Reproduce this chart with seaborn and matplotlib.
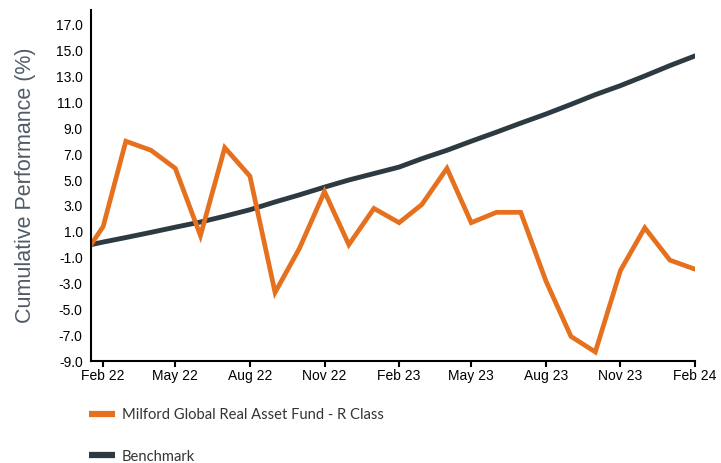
import matplotlib
matplotlib.use("Agg")
import matplotlib.pyplot as plt
import matplotlib.dates as mdates
from matplotlib.lines import Line2D
import pandas as pd
import seaborn as sns

# month points; the first one is the inception point, half a month before Feb 22
dates = ["2022-01-17"] + [d.strftime("%Y-%m-%d") for d in pd.date_range("2022-02-01", "2024-02-01", freq="MS")]
fund = [0.0, 1.4, 8.0, 7.3, 5.9, 0.7, 7.5, 5.3, -3.7, -0.3, 4.1, 0.0, 2.8,
        1.7, 3.1, 5.9, 1.7, 2.5, 2.5, -2.8, -7.1, -8.3, -2.0, 1.3, -1.2, -1.9]
benchmark = [0.0, 0.2, 0.55, 0.95, 1.35, 1.75, 2.2, 2.7, 3.3, 3.85, 4.45, 5.0, 5.5,
             6.0, 6.65, 7.3, 8.0, 8.7, 9.4, 10.1, 10.85, 11.6, 12.3, 13.05, 13.85, 14.6]
series_names = ["Milford Global Real Asset Fund - R Class", "Benchmark"]
yticks = [-9.0, -7.0, -5.0, -3.0, -1.0, 1.0, 3.0, 5.0, 7.0, 9.0, 11.0, 13.0, 15.0, 17.0]

ORANGE = "#E5711F"
DARK = "#2E3A41"

df = pd.DataFrame({
    "date": pd.to_datetime(dates * 2),
    "value": fund + benchmark,
    "series": [series_names[0]] * len(fund) + [series_names[1]] * len(benchmark),
})

sns.set_style("white")
plt.rcParams["font.family"] = ["Liberation Sans", "DejaVu Sans"]

fig = plt.figure(figsize=(7.21, 4.63), dpi=100)
ax = fig.add_axes([0.1262, 0.2203, 0.8378, 0.7581])

sns.lineplot(data=df[df.series == series_names[1]], x="date", y="value",
             color=DARK, linewidth=3.5, solid_capstyle="round", ax=ax, legend=False)
sns.lineplot(data=df[df.series == series_names[0]], x="date", y="value",
             color=ORANGE, linewidth=3.4, solid_joinstyle="miter", ax=ax, legend=False)

ax.set_xlim(pd.Timestamp(dates[0]), pd.Timestamp(dates[-1]))
ax.set_ylim(-9.0, 18.15)
ax.set_yticks(yticks)
ax.set_yticklabels([f"{t:.1f}" for t in yticks])

ax.xaxis.set_major_locator(mdates.MonthLocator(bymonth=[2, 5, 8, 11]))
ax.xaxis.set_major_formatter(mdates.DateFormatter("%b %y"))

sns.despine(ax=ax)
for side in ["left", "bottom"]:
    ax.spines[side].set_color("black")
    ax.spines[side].set_linewidth(1.5)

ax.tick_params(axis="x", direction="out", length=4, width=1.5, color="black",
               labelsize=10, pad=2, labelcolor="black", bottom=True)
ax.tick_params(axis="y", length=0, labelsize=10, pad=6, labelcolor="black")

ax.set_xlabel("")
ax.set_ylabel("Cumulative Performance (%)", fontsize=15.5, color="#4F5B66", labelpad=14)

handles = [Line2D([0], [0], color=ORANGE, linewidth=4.5, solid_capstyle="butt"),
           Line2D([0], [0], color=DARK, linewidth=4.5, solid_capstyle="butt")]
fig.legend(handles, series_names, loc="upper left", bbox_to_anchor=(0.1234, 0.118),
           frameon=False, handlelength=1.75, handletextpad=0.5,
           labelspacing=1.85, borderpad=0, borderaxespad=0,
           labelcolor="#333333", prop={"family": ["Lato", "DejaVu Sans"], "size": 10.6})

fig.savefig("out.png", dpi=100)
